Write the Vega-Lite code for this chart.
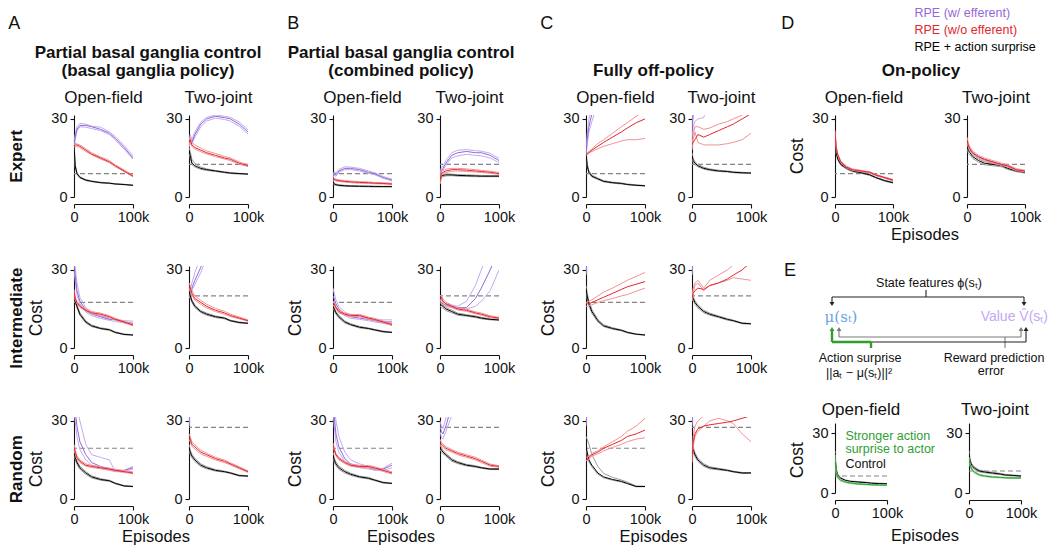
{
"$schema":"https://vega.github.io/schema/vega-lite/v6.json",
"padding":{"left":8,"top":7,"right":0,"bottom":0},
"background":"white",
"config":{
 "font":"Liberation Sans",
 "view":{"stroke":null},
 "title":{"color":"#111","offset":4,"anchor":"middle"},
 "axis":{"labelFontSize":14.5,"labelColor":"#111","domainColor":"#111","tickColor":"#111","tickSize":4,"grid":false,"labelPadding":2,"domainWidth":1.1,"tickWidth":1.1},
 "axisX":{"labelFlush":false,"labelAngle":0},
 "axisY":{"labelPadding":3},
 "header":{"labelFontSize":17,"labelColor":"#111"},
 "legend":{"orient":"none","legendX":828,"legendY":-108,"symbolSize":0,"symbolOpacity":0,"symbolStrokeWidth":0,"labelOffset":0,"labelFontSize":12.5,"rowPadding":4,"padding":0}
},
"datasets":{
"diag":[
{"kind":"seg","c":"k","x":91,"y":31,"x2":91,"y2":38},
{"kind":"seg","c":"k","x":-3,"y":38,"x2":189,"y2":38},
{"kind":"seg","c":"k","x":-3,"y":38,"x2":-3,"y2":43},
{"kind":"seg","c":"k","x":189,"y":38,"x2":189,"y2":43},
{"kind":"seg","c":"g","x":4,"y":78,"x2":186,"y2":78},
{"kind":"seg","c":"g","x":4,"y":78,"x2":4,"y2":72},
{"kind":"seg","c":"g","x":186,"y":78,"x2":186,"y2":72},
{"kind":"seg","c":"g","x":170,"y":78,"x2":170,"y2":89},
{"kind":"seg","c":"k","x":36,"y":83,"x2":191,"y2":83},
{"kind":"seg","c":"k","x":191,"y":83,"x2":191,"y2":72},
{"kind":"seg","c":"n","x":36,"y":89,"x2":36,"y2":83},
{"kind":"seg","c":"n","x":-3,"y":83,"x2":36,"y2":83},
{"kind":"seg","c":"n","x":-3,"y":83,"x2":-3,"y2":72},
{"kind":"arr","c":"k","dir":"down","x":-3,"y":45},
{"kind":"arr","c":"k","dir":"down","x":189,"y":45},
{"kind":"arr","c":"g","dir":"up","x":4,"y":70},
{"kind":"arr","c":"g","dir":"up","x":186,"y":70},
{"kind":"arr","c":"k","dir":"up","x":191,"y":70},
{"kind":"arr","c":"n","dir":"up","x":-3,"y":70},
{"kind":"txt","r":"let","x":-51,"y":12,"t":"E"},
{"kind":"txt","r":"lab","x":94,"y":24,"t":"State features ϕ(sₜ)"},
{"kind":"txt","r":"mu","x":6,"y":58,"t":"μ(sₜ)"},
{"kind":"txt","r":"val","x":213,"y":58,"t":"Value V̂(sₜ)"},
{"kind":"txt","r":"lab","x":25,"y":99,"t":"Action surprise"},
{"kind":"txt","r":"lab","x":24,"y":114,"t":"||aₜ − μ(sₜ)||²"},
{"kind":"txt","r":"lab","x":159,"y":99,"t":"Reward prediction"},
{"kind":"txt","r":"lab","x":156,"y":112,"t":"error"}],
"cur":[
{"g":"Ae","task":"Open-field","x":0,"p1":21,"p2":19,"pm":20,"b1":20.5,"b2":19.5,"bm":20,"r1":20,"r2":19,"rm":19.5},
{"g":"Ae","task":"Open-field","x":2000,"p1":24,"p2":22,"pm":23,"b1":12.6,"b2":11.5,"bm":12,"r1":20.6,"r2":19.5,"rm":20},
{"g":"Ae","task":"Open-field","x":5000,"p1":27,"p2":25.3,"pm":26,"b1":9.4,"b2":8.7,"bm":9,"r1":20.4,"r2":19.4,"rm":20},
{"g":"Ae","task":"Open-field","x":10000,"p1":28.3,"p2":27,"pm":27.5,"b1":7.8,"b2":7.3,"bm":7.5,"r1":20,"r2":19,"rm":19.5},
{"g":"Ae","task":"Open-field","x":20000,"p1":28,"p2":26.8,"pm":27.5,"b1":6.7,"b2":6.3,"bm":6.5,"r1":18.5,"r2":17.5,"rm":18},
{"g":"Ae","task":"Open-field","x":30000,"p1":27.2,"p2":26.3,"pm":27,"b1":6.2,"b2":5.9,"bm":6,"r1":17,"r2":16.2,"rm":16.5},
{"g":"Ae","task":"Open-field","x":45000,"p1":26.8,"p2":25.5,"pm":26,"b1":5.7,"b2":5.4,"bm":5.5,"r1":15.4,"r2":14.6,"rm":15},
{"g":"Ae","task":"Open-field","x":60000,"p1":25,"p2":24,"pm":24.5,"b1":5.4,"b2":5.2,"bm":5.3,"r1":14,"r2":13.2,"rm":13.5},
{"g":"Ae","task":"Open-field","x":70000,"p1":23.2,"p2":22,"pm":22.5,"b1":5.1,"b2":4.9,"bm":5,"r1":12.3,"r2":11.6,"rm":12},
{"g":"Ae","task":"Open-field","x":85000,"p1":19.8,"p2":18.4,"pm":19,"b1":4.9,"b2":4.7,"bm":4.8,"r1":10.4,"r2":9.7,"rm":10},
{"g":"Ae","task":"Open-field","x":100000,"p1":15.8,"p2":14.5,"pm":15,"b1":4.6,"b2":4.4,"bm":4.5,"r1":8.3,"r2":7.8,"rm":8},
{"g":"Ae","task":"Open-field","d":9},
{"g":"Ae","task":"Two-joint","x":0,"p1":21,"p2":19,"pm":20,"b1":19,"b2":17,"bm":18,"r1":22,"r2":20,"rm":21},
{"g":"Ae","task":"Two-joint","x":2000,"p1":24,"p2":21,"pm":22,"b1":17.5,"b2":15,"bm":16,"r1":23,"r2":21,"rm":22},
{"g":"Ae","task":"Two-joint","x":5000,"p1":22,"p2":20.5,"pm":21,"b1":14.5,"b2":12.4,"bm":13,"r1":21,"r2":19.4,"rm":20},
{"g":"Ae","task":"Two-joint","x":10000,"p1":25,"p2":23,"pm":24,"b1":12.8,"b2":11.5,"bm":12,"r1":20,"r2":18.4,"rm":19},
{"g":"Ae","task":"Two-joint","x":20000,"p1":28.8,"p2":27,"pm":28,"b1":11.5,"b2":10.6,"bm":11,"r1":18.8,"r2":17.4,"rm":18},
{"g":"Ae","task":"Two-joint","x":30000,"p1":30.6,"p2":29.2,"pm":30,"b1":10.8,"b2":10.2,"bm":10.5,"r1":17.7,"r2":16.5,"rm":17},
{"g":"Ae","task":"Two-joint","x":45000,"p1":31.5,"p2":30.3,"pm":31,"b1":10.2,"b2":9.8,"bm":10,"r1":16.7,"r2":15.5,"rm":16},
{"g":"Ae","task":"Two-joint","x":60000,"p1":31,"p2":29.8,"pm":30.5,"b1":9.7,"b2":9.3,"bm":9.5,"r1":15.6,"r2":14.6,"rm":15},
{"g":"Ae","task":"Two-joint","x":70000,"p1":30.6,"p2":29.2,"pm":30,"b1":9.4,"b2":9,"bm":9.2,"r1":15,"r2":14,"rm":14.5},
{"g":"Ae","task":"Two-joint","x":85000,"p1":28.8,"p2":27.2,"pm":28,"b1":9.1,"b2":8.8,"bm":9,"r1":13.5,"r2":12.6,"rm":13},
{"g":"Ae","task":"Two-joint","x":100000,"p1":25.8,"p2":24.2,"pm":25,"b1":8.9,"b2":8.7,"bm":8.8,"r1":12.4,"r2":11.7,"rm":12},
{"g":"Ae","task":"Two-joint","d":12.5},
{"g":"Ai","task":"Open-field","x":0,"p1":36,"p2":30,"pm":33,"b1":21.5,"b2":20.5,"bm":21,"r1":22.5,"r2":21.5,"rm":22},
{"g":"Ai","task":"Open-field","x":2000,"p1":31,"p2":26,"pm":28,"b1":18.6,"b2":17.5,"bm":18,"r1":19.6,"r2":18.5,"rm":19},
{"g":"Ai","task":"Open-field","x":5000,"p1":25,"p2":20.5,"pm":22,"b1":16.6,"b2":15.5,"bm":16,"r1":18,"r2":17,"rm":17.5},
{"g":"Ai","task":"Open-field","x":10000,"p1":19.5,"p2":17,"pm":18,"b1":13.6,"b2":12.5,"bm":13,"r1":16.5,"r2":15.6,"rm":16},
{"g":"Ai","task":"Open-field","x":20000,"p1":15.5,"p2":13.8,"pm":14.5,"b1":10.4,"b2":9.6,"bm":10,"r1":15,"r2":14.1,"rm":14.5},
{"g":"Ai","task":"Open-field","x":30000,"p1":13.8,"p2":12.4,"pm":13,"b1":8.8,"b2":8.2,"bm":8.5,"r1":14,"r2":13.1,"rm":13.5},
{"g":"Ai","task":"Open-field","x":45000,"p1":12.3,"p2":11.4,"pm":12,"b1":7.8,"b2":7.3,"bm":7.5,"r1":13.4,"r2":12.6,"rm":13},
{"g":"Ai","task":"Open-field","x":60000,"p1":11.2,"p2":10.6,"pm":11,"b1":7.2,"b2":6.8,"bm":7,"r1":12.4,"r2":11.6,"rm":12},
{"g":"Ai","task":"Open-field","x":70000,"p1":10.8,"p2":10.2,"pm":11,"b1":6.2,"b2":5.8,"bm":6,"r1":11.4,"r2":10.7,"rm":11},
{"g":"Ai","task":"Open-field","x":85000,"p1":10.5,"p2":9.6,"pm":10,"b1":5.4,"b2":5.1,"bm":5.2,"r1":10.3,"r2":9.7,"rm":10},
{"g":"Ai","task":"Open-field","x":100000,"p1":10.3,"p2":9.2,"pm":9.5,"b1":5.1,"b2":4.9,"bm":5,"r1":9.1,"r2":8.5,"rm":8.8},
{"g":"Ai","task":"Open-field","d":17.5},
{"g":"Ai","task":"Two-joint","x":0,"p1":21,"p2":19,"pm":20,"b1":22.5,"b2":21.5,"bm":22,"r1":25,"r2":23,"rm":24},
{"g":"Ai","task":"Two-joint","x":2000,"p1":22,"p2":20,"pm":21,"b1":20.6,"b2":19.4,"bm":20,"r1":24,"r2":22,"rm":23},
{"g":"Ai","task":"Two-joint","x":5000,"p1":25,"p2":22,"pm":23,"b1":18.5,"b2":17.5,"bm":18,"r1":22,"r2":20.3,"rm":21},
{"g":"Ai","task":"Two-joint","x":10000,"p1":29,"p2":24.5,"pm":26,"b1":16.5,"b2":15.5,"bm":16,"r1":20,"r2":18.4,"rm":19},
{"g":"Ai","task":"Two-joint","x":20000,"p1":35,"p2":29,"pm":31,"b1":14.4,"b2":13.6,"bm":14,"r1":18.3,"r2":16.8,"rm":17.5},
{"g":"Ai","task":"Two-joint","x":30000,"p1":43,"p2":35,"pm":38,"b1":13.4,"b2":12.6,"bm":13,"r1":16.8,"r2":15.4,"rm":16},
{"g":"Ai","task":"Two-joint","x":45000,"b1":12.3,"b2":11.7,"bm":12,"r1":15.2,"r2":14,"rm":14.5},
{"g":"Ai","task":"Two-joint","x":60000,"b1":11.7,"b2":11.2,"bm":11.5,"r1":14.1,"r2":13,"rm":13.5},
{"g":"Ai","task":"Two-joint","x":70000,"b1":10.7,"b2":10.3,"bm":10.5,"r1":13,"r2":12.1,"rm":12.5},
{"g":"Ai","task":"Two-joint","x":85000,"b1":10,"b2":9.6,"bm":9.8,"r1":11.9,"r2":11.2,"rm":11.5},
{"g":"Ai","task":"Two-joint","x":100000,"b1":9.6,"b2":9.4,"bm":9.5,"r1":10.8,"r2":10.3,"rm":10.5},
{"g":"Ai","task":"Two-joint","d":20},
{"g":"Ar","task":"Open-field","x":0,"p1":45,"p2":36,"pm":40,"b1":19,"b2":17,"bm":18,"r1":21,"r2":19,"rm":20},
{"g":"Ar","task":"Open-field","x":2000,"p1":40,"p2":30,"pm":34,"b1":16.8,"b2":15.2,"bm":16,"r1":18.8,"r2":17.3,"rm":18},
{"g":"Ar","task":"Open-field","x":5000,"p1":35,"p2":24,"pm":28,"b1":14.7,"b2":13.3,"bm":14,"r1":16.6,"r2":15.4,"rm":16},
{"g":"Ar","task":"Open-field","x":10000,"p1":30,"p2":19,"pm":22,"b1":12.6,"b2":11.4,"bm":12,"r1":15,"r2":14,"rm":14.5},
{"g":"Ar","task":"Open-field","x":20000,"p1":21,"p2":15,"pm":17,"b1":10.5,"b2":9.5,"bm":10,"r1":13.5,"r2":12.6,"rm":13},
{"g":"Ar","task":"Open-field","x":30000,"p1":17,"p2":13,"pm":14,"b1":8.9,"b2":8.1,"bm":8.5,"r1":12.9,"r2":12.1,"rm":12.5},
{"g":"Ar","task":"Open-field","x":45000,"p1":16,"p2":12,"pm":12.5,"b1":7.8,"b2":7.2,"bm":7.5,"r1":12.4,"r2":11.6,"rm":12},
{"g":"Ar","task":"Open-field","x":60000,"p1":15,"p2":11,"pm":11.5,"b1":7.2,"b2":6.8,"bm":7,"r1":11.9,"r2":11.1,"rm":11.5},
{"g":"Ar","task":"Open-field","x":70000,"p1":10.5,"p2":10.5,"pm":11,"b1":6.2,"b2":5.8,"bm":6,"r1":11.4,"r2":10.7,"rm":11},
{"g":"Ar","task":"Open-field","x":85000,"p1":11,"p2":10.5,"pm":11,"b1":5.2,"b2":4.9,"bm":5,"r1":10.9,"r2":10.2,"rm":10.5},
{"g":"Ar","task":"Open-field","x":100000,"p1":12.5,"p2":11.5,"pm":12,"b1":4.9,"b2":4.7,"bm":4.8,"r1":10.4,"r2":9.7,"rm":10},
{"g":"Ar","task":"Open-field","d":19.5},
{"g":"Ar","task":"Two-joint","x":0,"p1":32,"p2":28,"pm":30,"b1":21,"b2":19,"bm":20,"r1":25,"r2":23,"rm":24},
{"g":"Ar","task":"Two-joint","x":2000,"p1":42,"p2":34,"pm":38,"b1":18.8,"b2":17.2,"bm":18,"r1":24,"r2":22,"rm":23},
{"g":"Ar","task":"Two-joint","x":5000,"b1":17.2,"b2":15.8,"bm":16.5,"r1":22,"r2":20.2,"rm":21},
{"g":"Ar","task":"Two-joint","x":10000,"b1":15.6,"b2":14.4,"bm":15,"r1":20.8,"r2":19.2,"rm":20},
{"g":"Ar","task":"Two-joint","x":20000,"b1":13.5,"b2":12.5,"bm":13,"r1":18.7,"r2":17.3,"rm":18},
{"g":"Ar","task":"Two-joint","x":30000,"b1":12.4,"b2":11.6,"bm":12,"r1":17.6,"r2":16.4,"rm":17},
{"g":"Ar","task":"Two-joint","x":45000,"b1":11.3,"b2":10.7,"bm":11,"r1":16,"r2":15,"rm":15.5},
{"g":"Ar","task":"Two-joint","x":60000,"b1":10.7,"b2":10.3,"bm":10.5,"r1":15,"r2":14,"rm":14.5},
{"g":"Ar","task":"Two-joint","x":70000,"b1":10.2,"b2":9.8,"bm":10,"r1":13.9,"r2":13.1,"rm":13.5},
{"g":"Ar","task":"Two-joint","x":85000,"b1":9.2,"b2":8.8,"bm":9,"r1":12.4,"r2":11.6,"rm":12},
{"g":"Ar","task":"Two-joint","x":100000,"b1":8.9,"b2":8.7,"bm":8.8,"r1":10.8,"r2":10.2,"rm":10.5},
{"g":"Ar","task":"Two-joint","d":27.5},
{"g":"Be","task":"Open-field","x":0,"p1":8.5,"p2":7.5,"pm":8,"b1":6.4,"b2":5.6,"bm":6,"r1":7.4,"r2":6.6,"rm":7},
{"g":"Be","task":"Open-field","x":2000,"p1":9.6,"p2":8.5,"pm":9,"b1":5.3,"b2":4.7,"bm":5,"r1":7.2,"r2":6.4,"rm":6.8},
{"g":"Be","task":"Open-field","x":5000,"p1":9.2,"p2":8,"pm":8.5,"b1":5,"b2":4.5,"bm":4.7,"r1":6.9,"r2":6.1,"rm":6.5},
{"g":"Be","task":"Open-field","x":10000,"p1":10.6,"p2":9.5,"pm":10,"b1":4.7,"b2":4.3,"bm":4.5,"r1":6.6,"r2":6,"rm":6.3},
{"g":"Be","task":"Open-field","x":20000,"p1":11.6,"p2":10.5,"pm":11,"b1":4.5,"b2":4.1,"bm":4.3,"r1":6.3,"r2":5.7,"rm":6},
{"g":"Be","task":"Open-field","x":30000,"p1":11.5,"p2":10.5,"pm":11,"b1":4.4,"b2":4,"bm":4.2,"r1":6.1,"r2":5.5,"rm":5.8},
{"g":"Be","task":"Open-field","x":45000,"p1":11,"p2":10,"pm":10.5,"b1":4.3,"b2":4,"bm":4.1,"r1":5.9,"r2":5.3,"rm":5.6},
{"g":"Be","task":"Open-field","x":60000,"p1":10,"p2":9.1,"pm":9.5,"b1":4.2,"b2":3.9,"bm":4.1,"r1":5.8,"r2":5.2,"rm":5.5},
{"g":"Be","task":"Open-field","x":70000,"p1":9.4,"p2":8.6,"pm":9,"b1":4.2,"b2":3.9,"bm":4,"r1":5.6,"r2":5.1,"rm":5.3},
{"g":"Be","task":"Open-field","x":85000,"p1":7.9,"p2":7.2,"pm":7.5,"b1":4.1,"b2":3.9,"bm":4,"r1":5.5,"r2":5,"rm":5.2},
{"g":"Be","task":"Open-field","x":100000,"p1":6.8,"p2":6.2,"pm":6.5,"b1":4.1,"b2":3.9,"bm":4,"r1":5.3,"r2":4.8,"rm":5},
{"g":"Be","task":"Open-field","d":9},
{"g":"Be","task":"Two-joint","x":0,"p1":9,"p2":7,"pm":8,"b1":7,"b2":5,"bm":6,"r1":7,"r2":5,"rm":6},
{"g":"Be","task":"Two-joint","x":2000,"p1":11,"p2":9.5,"pm":10,"b1":8.7,"b2":7.4,"bm":8,"r1":10,"r2":8.4,"rm":9},
{"g":"Be","task":"Two-joint","x":5000,"p1":12,"p2":10.4,"pm":11,"b1":8.8,"b2":7.8,"bm":8.3,"r1":10.2,"r2":9,"rm":9.5},
{"g":"Be","task":"Two-joint","x":10000,"p1":14,"p2":12.2,"pm":13,"b1":8.9,"b2":8.1,"bm":8.5,"r1":10.7,"r2":9.4,"rm":10},
{"g":"Be","task":"Two-joint","x":20000,"p1":17,"p2":15,"pm":16,"b1":8.8,"b2":8.2,"bm":8.5,"r1":11,"r2":9.9,"rm":10.5},
{"g":"Be","task":"Two-joint","x":30000,"p1":18,"p2":15.8,"pm":17,"b1":8.6,"b2":8,"bm":8.3,"r1":11,"r2":10,"rm":10.5},
{"g":"Be","task":"Two-joint","x":45000,"p1":18.2,"p2":16.4,"pm":17.5,"b1":8.5,"b2":7.9,"bm":8.2,"r1":10.8,"r2":9.8,"rm":10.3},
{"g":"Be","task":"Two-joint","x":60000,"p1":17.8,"p2":16,"pm":17,"b1":8.4,"b2":7.8,"bm":8.1,"r1":10.5,"r2":9.6,"rm":10},
{"g":"Be","task":"Two-joint","x":70000,"p1":17.6,"p2":15.8,"pm":17,"b1":8.3,"b2":7.8,"bm":8,"r1":10.2,"r2":9.4,"rm":9.8},
{"g":"Be","task":"Two-joint","x":85000,"p1":16.8,"p2":15,"pm":16,"b1":8.2,"b2":7.8,"bm":8,"r1":9.9,"r2":9.1,"rm":9.5},
{"g":"Be","task":"Two-joint","x":100000,"p1":14.8,"p2":13.2,"pm":14,"b1":8.2,"b2":7.8,"bm":8,"r1":9.4,"r2":8.7,"rm":9},
{"g":"Be","task":"Two-joint","d":12.5},
{"g":"Bi","task":"Open-field","x":0,"p1":23,"p2":18,"pm":20,"b1":16.6,"b2":15.4,"bm":16,"r1":17.5,"r2":16.5,"rm":17},
{"g":"Bi","task":"Open-field","x":2000,"p1":21,"p2":17.5,"pm":19,"b1":15.6,"b2":14.4,"bm":15,"r1":17.6,"r2":16.4,"rm":17},
{"g":"Bi","task":"Open-field","x":5000,"p1":18.5,"p2":15.8,"pm":17,"b1":14,"b2":13,"bm":13.5,"r1":16,"r2":15,"rm":15.5},
{"g":"Bi","task":"Open-field","x":10000,"p1":16,"p2":14,"pm":15,"b1":12.5,"b2":11.5,"bm":12,"r1":14.5,"r2":13.5,"rm":14},
{"g":"Bi","task":"Open-field","x":20000,"p1":13.8,"p2":12.4,"pm":13,"b1":10.4,"b2":9.6,"bm":10,"r1":13.4,"r2":12.6,"rm":13},
{"g":"Bi","task":"Open-field","x":30000,"p1":12.7,"p2":11.4,"pm":12,"b1":9.3,"b2":8.7,"bm":9,"r1":12.9,"r2":12.1,"rm":12.5},
{"g":"Bi","task":"Open-field","x":45000,"p1":12,"p2":11,"pm":11.5,"b1":8.3,"b2":7.7,"bm":8,"r1":12.9,"r2":12.1,"rm":12.5},
{"g":"Bi","task":"Open-field","x":60000,"p1":11.5,"p2":10.5,"pm":11,"b1":7.7,"b2":7.3,"bm":7.5,"r1":11.9,"r2":11.1,"rm":11.5},
{"g":"Bi","task":"Open-field","x":70000,"p1":11,"p2":10,"pm":10.5,"b1":7.2,"b2":6.8,"bm":7,"r1":11.4,"r2":10.6,"rm":11},
{"g":"Bi","task":"Open-field","x":85000,"p1":10.8,"p2":9.5,"pm":10,"b1":6.5,"b2":6.1,"bm":6.3,"r1":10.4,"r2":9.6,"rm":10},
{"g":"Bi","task":"Open-field","x":100000,"p1":10.8,"p2":9.4,"pm":10,"b1":6.1,"b2":5.9,"bm":6,"r1":9.4,"r2":8.6,"rm":9},
{"g":"Bi","task":"Open-field","d":17.5},
{"g":"Bi","task":"Two-joint","x":0,"p1":19,"p2":17,"pm":18,"b1":18,"b2":16,"bm":17,"r1":20,"r2":18,"rm":19},
{"g":"Bi","task":"Two-joint","x":2000,"p1":18.5,"p2":16.8,"pm":17.5,"b1":17.3,"b2":15.7,"bm":16.5,"r1":20.3,"r2":18.8,"rm":19.5},
{"g":"Bi","task":"Two-joint","x":5000,"p1":17.8,"p2":16.3,"pm":17,"b1":16.6,"b2":15.3,"bm":16,"r1":18.8,"r2":17.3,"rm":18},
{"g":"Bi","task":"Two-joint","x":10000,"p1":17,"p2":16,"pm":16.5,"b1":15.5,"b2":14.4,"bm":15,"r1":17.6,"r2":16.4,"rm":17},
{"g":"Bi","task":"Two-joint","x":20000,"p1":16.5,"p2":15.5,"pm":16,"b1":14.5,"b2":13.5,"bm":14,"r1":16.5,"r2":15.5,"rm":16},
{"g":"Bi","task":"Two-joint","x":30000,"p1":16,"p2":15.2,"pm":15.5,"b1":13.4,"b2":12.6,"bm":13,"r1":15.4,"r2":14.6,"rm":15},
{"g":"Bi","task":"Two-joint","x":45000,"p1":18,"p2":15,"pm":15.5,"b1":12.8,"b2":12.2,"bm":12.5,"r1":14.9,"r2":14.1,"rm":14.5},
{"g":"Bi","task":"Two-joint","x":60000,"p1":24,"p2":16,"pm":19,"b1":12.3,"b2":11.7,"bm":12,"r1":13.9,"r2":13.1,"rm":13.5},
{"g":"Bi","task":"Two-joint","x":70000,"p1":30,"p2":18,"pm":23,"b1":11.8,"b2":11.2,"bm":11.5,"r1":13.4,"r2":12.6,"rm":13},
{"g":"Bi","task":"Two-joint","x":85000,"p1":38,"p2":22,"pm":30,"b1":11.2,"b2":10.8,"bm":11,"r1":12.4,"r2":11.6,"rm":12},
{"g":"Bi","task":"Two-joint","x":100000,"p1":46,"p2":30,"pm":38,"b1":11,"b2":10.6,"bm":10.8,"r1":11.8,"r2":11.2,"rm":11.5},
{"g":"Bi","task":"Two-joint","d":20},
{"g":"Br","task":"Open-field","x":0,"p1":45,"p2":36,"pm":40,"b1":18,"b2":16,"bm":17,"r1":21.5,"r2":20.5,"rm":21},
{"g":"Br","task":"Open-field","x":2000,"p1":37,"p2":28,"pm":32,"b1":15.8,"b2":14.2,"bm":15,"r1":19.6,"r2":18.4,"rm":19},
{"g":"Br","task":"Open-field","x":5000,"p1":30,"p2":22,"pm":25,"b1":14.2,"b2":12.8,"bm":13.5,"r1":17.5,"r2":16.5,"rm":17},
{"g":"Br","task":"Open-field","x":10000,"p1":24,"p2":18,"pm":20,"b1":12.6,"b2":11.4,"bm":12,"r1":16,"r2":15,"rm":15.5},
{"g":"Br","task":"Open-field","x":20000,"p1":18,"p2":14.5,"pm":15.5,"b1":11,"b2":10,"bm":10.5,"r1":14.4,"r2":13.6,"rm":14},
{"g":"Br","task":"Open-field","x":30000,"p1":15,"p2":12.8,"pm":13.5,"b1":9.9,"b2":9.1,"bm":9.5,"r1":13.4,"r2":12.6,"rm":13},
{"g":"Br","task":"Open-field","x":45000,"p1":13.5,"p2":12,"pm":12.5,"b1":8.8,"b2":8.2,"bm":8.5,"r1":12.9,"r2":12.1,"rm":12.5},
{"g":"Br","task":"Open-field","x":60000,"p1":12.5,"p2":11.5,"pm":12,"b1":8.3,"b2":7.7,"bm":8,"r1":12.9,"r2":12.1,"rm":12.5},
{"g":"Br","task":"Open-field","x":70000,"p1":11,"p2":11.2,"pm":11.5,"b1":7.5,"b2":7.1,"bm":7.3,"r1":12.4,"r2":11.6,"rm":12},
{"g":"Br","task":"Open-field","x":85000,"p1":11,"p2":11.8,"pm":11.5,"b1":6.5,"b2":6.1,"bm":6.3,"r1":11.4,"r2":10.6,"rm":11},
{"g":"Br","task":"Open-field","x":100000,"p1":12,"p2":13.8,"pm":13,"b1":6.1,"b2":5.9,"bm":6,"r1":10.4,"r2":9.6,"rm":10},
{"g":"Br","task":"Open-field","d":19.5},
{"g":"Br","task":"Two-joint","x":0,"p1":30,"p2":26,"pm":28,"b1":21,"b2":19,"bm":20,"r1":23,"r2":21,"rm":22},
{"g":"Br","task":"Two-joint","x":2000,"p1":28,"p2":24,"pm":26,"b1":19.8,"b2":18.2,"bm":19,"r1":21.8,"r2":20.3,"rm":21},
{"g":"Br","task":"Two-joint","x":5000,"p1":27,"p2":23,"pm":25,"b1":18.6,"b2":17.4,"bm":18,"r1":21.2,"r2":19.8,"rm":20.5},
{"g":"Br","task":"Two-joint","x":10000,"p1":31,"p2":26,"pm":28,"b1":17.5,"b2":16.5,"bm":17,"r1":20.1,"r2":18.9,"rm":19.5},
{"g":"Br","task":"Two-joint","x":20000,"p1":40,"p2":32,"pm":36,"b1":15.5,"b2":14.5,"bm":15,"r1":19,"r2":18,"rm":18.5},
{"g":"Br","task":"Two-joint","x":30000,"b1":14.4,"b2":13.6,"bm":14,"r1":18,"r2":17,"rm":17.5},
{"g":"Br","task":"Two-joint","x":45000,"b1":13.3,"b2":12.7,"bm":13,"r1":17,"r2":16,"rm":16.5},
{"g":"Br","task":"Two-joint","x":60000,"b1":12.8,"b2":12.2,"bm":12.5,"r1":16,"r2":15,"rm":15.5},
{"g":"Br","task":"Two-joint","x":70000,"b1":12.2,"b2":11.8,"bm":12,"r1":15,"r2":14,"rm":14.5},
{"g":"Br","task":"Two-joint","x":85000,"b1":11.7,"b2":11.3,"bm":11.5,"r1":13.4,"r2":12.6,"rm":13},
{"g":"Br","task":"Two-joint","x":100000,"b1":11.7,"b2":11.3,"bm":11.5,"r1":12.8,"r2":12.2,"rm":12.5},
{"g":"Br","task":"Two-joint","d":27.5},
{"g":"Ce","task":"Open-field","x":0,"p1":18,"p2":16,"pm":17,"b1":17.5,"b2":16.5,"bm":17,"r1":16,"r2":16,"rm":16},
{"g":"Ce","task":"Open-field","x":2000,"p1":24,"p2":20,"pm":22,"b1":12.8,"b2":11.4,"bm":12,"r1":17,"r2":16.5,"rm":16.5},
{"g":"Ce","task":"Open-field","x":5000,"p1":30,"p2":25,"pm":27,"b1":10,"b2":9.1,"bm":9.5,"r1":17.5,"r2":17,"rm":17},
{"g":"Ce","task":"Open-field","x":10000,"p1":36,"p2":29,"pm":32,"b1":8.4,"b2":7.7,"bm":8,"r1":18.5,"r2":17.5,"rm":18},
{"g":"Ce","task":"Open-field","x":20000,"p1":45,"p2":36,"pm":40,"b1":7.3,"b2":6.7,"bm":7,"r1":20.5,"r2":18.5,"rm":19.5},
{"g":"Ce","task":"Open-field","x":30000,"b1":6.3,"b2":5.8,"bm":6,"r1":22,"r2":19.5,"rm":21},
{"g":"Ce","task":"Open-field","x":45000,"b1":5.7,"b2":5.3,"bm":5.5,"r1":24.5,"r2":20.5,"rm":23},
{"g":"Ce","task":"Open-field","x":60000,"b1":5.4,"b2":5,"bm":5.2,"r1":27,"r2":21.5,"rm":25},
{"g":"Ce","task":"Open-field","x":70000,"b1":5,"b2":4.7,"bm":4.8,"r1":28.5,"r2":22,"rm":26.5},
{"g":"Ce","task":"Open-field","x":85000,"b1":4.7,"b2":4.4,"bm":4.5,"r1":31,"r2":22,"rm":28.5},
{"g":"Ce","task":"Open-field","x":100000,"b1":4.4,"b2":4.2,"bm":4.3,"r1":33,"r2":22.5,"rm":30},
{"g":"Ce","task":"Open-field","d":9},
{"g":"Ce","task":"Two-joint","x":0,"p1":27,"p2":23,"pm":25,"b1":17,"b2":15,"bm":16,"r1":20,"r2":18,"rm":20},
{"g":"Ce","task":"Two-joint","x":2000,"p1":35,"p2":27,"pm":32,"b1":14.8,"b2":13.3,"bm":14,"r1":24,"r2":22,"rm":21},
{"g":"Ce","task":"Two-joint","x":5000,"p1":44,"p2":29,"pm":40,"b1":13.6,"b2":12.4,"bm":13,"r1":27,"r2":25,"rm":22},
{"g":"Ce","task":"Two-joint","x":10000,"p2":30,"b1":12.5,"b2":11.6,"bm":12,"r1":27,"r2":21,"rm":24},
{"g":"Ce","task":"Two-joint","x":20000,"p2":30.5,"b1":11.4,"b2":10.7,"bm":11,"r1":26,"r2":20,"rm":23},
{"g":"Ce","task":"Two-joint","x":30000,"p2":40,"b1":10.8,"b2":10.2,"bm":10.5,"r1":26.5,"r2":20,"rm":24},
{"g":"Ce","task":"Two-joint","x":45000,"b1":10.3,"b2":9.8,"bm":10,"r1":28,"r2":20,"rm":25.5},
{"g":"Ce","task":"Two-joint","x":60000,"b1":10,"b2":9.6,"bm":9.8,"r1":29,"r2":20.5,"rm":27},
{"g":"Ce","task":"Two-joint","x":70000,"b1":9.7,"b2":9.3,"bm":9.5,"r1":30,"r2":21,"rm":28},
{"g":"Ce","task":"Two-joint","x":85000,"b1":9.5,"b2":9.1,"bm":9.3,"r1":31.5,"r2":22,"rm":30},
{"g":"Ce","task":"Two-joint","x":100000,"b1":9.3,"b2":9.1,"bm":9.2,"r1":33,"r2":24.5,"rm":32},
{"g":"Ce","task":"Two-joint","d":12.5},
{"g":"Ci","task":"Open-field","x":0,"p1":32,"p2":28,"pm":30,"b1":24,"b2":22,"bm":23,"r1":17,"r2":16,"rm":17},
{"g":"Ci","task":"Open-field","x":2000,"p1":44,"p2":36,"pm":40,"b1":21,"b2":19,"bm":20,"r1":17.5,"r2":16,"rm":17},
{"g":"Ci","task":"Open-field","x":5000,"b1":18,"b2":16.2,"bm":17,"r1":18,"r2":16.3,"rm":17},
{"g":"Ci","task":"Open-field","x":10000,"b1":14.8,"b2":13.3,"bm":14,"r1":18.5,"r2":16.6,"rm":17.5},
{"g":"Ci","task":"Open-field","x":20000,"b1":11,"b2":10,"bm":10.5,"r1":20,"r2":17.5,"rm":18.5},
{"g":"Ci","task":"Open-field","x":30000,"b1":8.9,"b2":8.2,"bm":8.5,"r1":21.5,"r2":18.2,"rm":19.5},
{"g":"Ci","task":"Open-field","x":45000,"b1":7.8,"b2":7.2,"bm":7.5,"r1":23,"r2":19,"rm":21},
{"g":"Ci","task":"Open-field","x":60000,"b1":7,"b2":6.6,"bm":6.8,"r1":24.8,"r2":20,"rm":22.5},
{"g":"Ci","task":"Open-field","x":70000,"b1":6.2,"b2":5.8,"bm":6,"r1":26,"r2":20.5,"rm":23.5},
{"g":"Ci","task":"Open-field","x":85000,"b1":5.4,"b2":5.2,"bm":5.3,"r1":27.5,"r2":21.8,"rm":24.5},
{"g":"Ci","task":"Open-field","x":100000,"b1":5.1,"b2":4.9,"bm":5,"r1":29,"r2":23,"rm":25.5},
{"g":"Ci","task":"Open-field","d":17.5},
{"g":"Ci","task":"Two-joint","x":0,"p1":32,"p2":28,"pm":30,"b1":21,"b2":19,"bm":20,"r1":20,"r2":18,"rm":19},
{"g":"Ci","task":"Two-joint","x":2000,"p1":44,"p2":36,"pm":40,"b1":19.8,"b2":18.2,"bm":19,"r1":23,"r2":21,"rm":21},
{"g":"Ci","task":"Two-joint","x":5000,"b1":18.2,"b2":16.8,"bm":17.5,"r1":25,"r2":24,"rm":22},
{"g":"Ci","task":"Two-joint","x":10000,"b1":16.6,"b2":15.4,"bm":16,"r1":26,"r2":25,"rm":23},
{"g":"Ci","task":"Two-joint","x":20000,"b1":14.5,"b2":13.5,"bm":14,"r1":23,"r2":22,"rm":22.5},
{"g":"Ci","task":"Two-joint","x":30000,"b1":13.4,"b2":12.6,"bm":13,"r1":26,"r2":24,"rm":24},
{"g":"Ci","task":"Two-joint","x":45000,"b1":12.3,"b2":11.7,"bm":12,"r1":28,"r2":25,"rm":25},
{"g":"Ci","task":"Two-joint","x":60000,"b1":11.3,"b2":10.7,"bm":11,"r1":30,"r2":26,"rm":26.5},
{"g":"Ci","task":"Two-joint","x":70000,"b1":10.7,"b2":10.3,"bm":10.5,"r1":32,"r2":27,"rm":28},
{"g":"Ci","task":"Two-joint","x":85000,"b1":9.7,"b2":9.3,"bm":9.5,"r1":34,"r2":26.5,"rm":30},
{"g":"Ci","task":"Two-joint","x":100000,"b1":9.4,"b2":9.2,"bm":9.3,"r1":36,"r2":26,"rm":33},
{"g":"Ci","task":"Two-joint","d":20},
{"g":"Cr","task":"Open-field","x":0,"p1":32,"p2":28,"pm":30,"b1":24,"b2":19,"bm":20,"r1":16,"r2":15,"rm":17},
{"g":"Cr","task":"Open-field","x":2000,"p1":44,"p2":36,"pm":40,"b1":23,"b2":17,"bm":18,"r1":16,"r2":14.5,"rm":15},
{"g":"Cr","task":"Open-field","x":5000,"b1":21,"b2":14.3,"bm":15,"r1":16.5,"r2":15.5,"rm":16},
{"g":"Cr","task":"Open-field","x":10000,"b1":17,"b2":12.3,"bm":13,"r1":17.5,"r2":16.5,"rm":17},
{"g":"Cr","task":"Open-field","x":20000,"b1":12.5,"b2":9.5,"bm":10,"r1":18.5,"r2":17.3,"rm":18},
{"g":"Cr","task":"Open-field","x":30000,"b1":9.8,"b2":8.1,"bm":8.5,"r1":20,"r2":18.5,"rm":19.5},
{"g":"Cr","task":"Open-field","x":45000,"b1":8.3,"b2":7.2,"bm":7.5,"r1":22,"r2":19.8,"rm":21},
{"g":"Cr","task":"Open-field","x":60000,"b1":7.3,"b2":6.5,"bm":6.8,"r1":24,"r2":21,"rm":22.5},
{"g":"Cr","task":"Open-field","x":70000,"b1":6.5,"b2":5.8,"bm":6,"r1":26,"r2":22,"rm":24},
{"g":"Cr","task":"Open-field","x":85000,"b1":5,"b2":4.7,"bm":4.8,"r1":28,"r2":23,"rm":25},
{"g":"Cr","task":"Open-field","x":100000,"b1":4.9,"b2":4.7,"bm":4.8,"r1":31,"r2":23.5,"rm":26.5},
{"g":"Cr","task":"Open-field","d":19.5},
{"g":"Cr","task":"Two-joint","x":0,"p1":32,"p2":28,"pm":30,"b1":21,"b2":19,"bm":20,"r1":16,"r2":14,"rm":15},
{"g":"Cr","task":"Two-joint","x":2000,"p1":44,"p2":36,"pm":40,"b1":20,"b2":18,"bm":19,"r1":24,"r2":20,"rm":22},
{"g":"Cr","task":"Two-joint","x":5000,"b1":17.8,"b2":16.2,"bm":17,"r1":28,"r2":24,"rm":25},
{"g":"Cr","task":"Two-joint","x":10000,"b1":15.6,"b2":14.4,"bm":15,"r1":30,"r2":26,"rm":27},
{"g":"Cr","task":"Two-joint","x":20000,"b1":13.5,"b2":12.5,"bm":13,"r1":32,"r2":28,"rm":28},
{"g":"Cr","task":"Two-joint","x":30000,"b1":12.4,"b2":11.6,"bm":12,"r1":32.5,"r2":30,"rm":28.5},
{"g":"Cr","task":"Two-joint","x":45000,"b1":11.8,"b2":11.2,"bm":11.5,"r1":33,"r2":31,"rm":29},
{"g":"Cr","task":"Two-joint","x":60000,"b1":11.2,"b2":10.8,"bm":11,"r1":32,"r2":30,"rm":29.5},
{"g":"Cr","task":"Two-joint","x":70000,"b1":10.7,"b2":10.3,"bm":10.5,"r1":33,"r2":29,"rm":30},
{"g":"Cr","task":"Two-joint","x":85000,"b1":10.2,"b2":9.8,"bm":10,"r1":34,"r2":25,"rm":31},
{"g":"Cr","task":"Two-joint","x":100000,"b1":10.1,"b2":9.9,"bm":10,"r1":35,"r2":22,"rm":32},
{"g":"Cr","task":"Two-joint","d":27.5},
{"g":"D","task":"Open-field","x":0,"pm":24.8,"b1":22.5,"b2":21.5,"bm":22,"r1":25.5,"r2":24.5,"rm":25},
{"g":"D","task":"Open-field","x":2000,"pm":18.8,"b1":17.5,"b2":16.5,"bm":17,"r1":19.5,"r2":18.5,"rm":19},
{"g":"D","task":"Open-field","x":5000,"pm":15.8,"b1":14.9,"b2":14.1,"bm":14.5,"r1":16.4,"r2":15.6,"rm":16},
{"g":"D","task":"Open-field","x":10000,"pm":13.3,"b1":12.8,"b2":12.2,"bm":12.5,"r1":13.8,"r2":13.2,"rm":13.5},
{"g":"D","task":"Open-field","x":20000,"pm":11.3,"b1":11.3,"b2":10.7,"bm":11,"r1":11.8,"r2":11.2,"rm":11.5},
{"g":"D","task":"Open-field","x":30000,"pm":10.3,"b1":10.3,"b2":9.7,"bm":10,"r1":10.8,"r2":10.2,"rm":10.5},
{"g":"D","task":"Open-field","x":45000,"pm":9.8,"b1":9.5,"b2":9.1,"bm":9.3,"r1":10.2,"r2":9.8,"rm":10},
{"g":"D","task":"Open-field","x":60000,"pm":9.3,"b1":8.7,"b2":8.3,"bm":8.5,"r1":9.7,"r2":9.3,"rm":9.5},
{"g":"D","task":"Open-field","x":70000,"pm":8.3,"b1":7.7,"b2":7.3,"bm":7.5,"r1":8.7,"r2":8.3,"rm":8.5},
{"g":"D","task":"Open-field","x":85000,"pm":7.3,"b1":6.5,"b2":6.1,"bm":6.3,"r1":7.7,"r2":7.3,"rm":7.5},
{"g":"D","task":"Open-field","x":100000,"pm":6.3,"b1":5.7,"b2":5.3,"bm":5.5,"r1":6.8,"r2":6.2,"rm":6.5},
{"g":"D","task":"Open-field","d":9},
{"g":"D","task":"Two-joint","x":0,"pm":21.8,"b1":21,"b2":19,"bm":20,"r1":23,"r2":21,"rm":22},
{"g":"D","task":"Two-joint","x":2000,"pm":19.8,"b1":19,"b2":17,"bm":18,"r1":20.8,"r2":19.2,"rm":20},
{"g":"D","task":"Two-joint","x":5000,"pm":18.3,"b1":17.8,"b2":16.2,"bm":17,"r1":19.2,"r2":17.8,"rm":18.5},
{"g":"D","task":"Two-joint","x":10000,"pm":16.8,"b1":16.2,"b2":14.8,"bm":15.5,"r1":17.6,"r2":16.4,"rm":17},
{"g":"D","task":"Two-joint","x":20000,"pm":15.3,"b1":14.6,"b2":13.4,"bm":14,"r1":16,"r2":15,"rm":15.5},
{"g":"D","task":"Two-joint","x":30000,"pm":14.3,"b1":13.6,"b2":12.4,"bm":13,"r1":15,"r2":14,"rm":14.5},
{"g":"D","task":"Two-joint","x":45000,"pm":13.3,"b1":13,"b2":12,"bm":12.5,"r1":14,"r2":13,"rm":13.5},
{"g":"D","task":"Two-joint","x":60000,"pm":12.3,"b1":12.4,"b2":11.6,"bm":12,"r1":13,"r2":12,"rm":12.5},
{"g":"D","task":"Two-joint","x":70000,"pm":11.8,"b1":11.4,"b2":10.6,"bm":11,"r1":12.4,"r2":11.6,"rm":12},
{"g":"D","task":"Two-joint","x":85000,"pm":10.3,"b1":10.3,"b2":9.7,"bm":10,"r1":10.9,"r2":10.1,"rm":10.5},
{"g":"D","task":"Two-joint","x":100000,"pm":9.8,"b1":9.8,"b2":9.2,"bm":9.5,"r1":10.3,"r2":9.7,"rm":10},
{"g":"D","task":"Two-joint","d":12.5},
{"g":"E","task":"Open-field","x":0,"c1":21,"c2":19,"cm":20,"g1":19,"g2":17,"gm":18},
{"g":"E","task":"Open-field","x":2000,"c1":12.8,"c2":11.3,"cm":12,"g1":11,"g2":9.2,"gm":10},
{"g":"E","task":"Open-field","x":5000,"c1":9.5,"c2":8.6,"cm":9,"g1":8.6,"g2":7.5,"gm":8},
{"g":"E","task":"Open-field","x":10000,"c1":7.9,"c2":7.2,"cm":7.5,"g1":7,"g2":6.1,"gm":6.5},
{"g":"E","task":"Open-field","x":20000,"c1":6.6,"c2":6.1,"cm":6.3,"g1":5.8,"g2":5.2,"gm":5.5},
{"g":"E","task":"Open-field","x":30000,"c1":6,"c2":5.6,"cm":5.8,"g1":5.3,"g2":4.7,"gm":5},
{"g":"E","task":"Open-field","x":45000,"c1":5.7,"c2":5.3,"cm":5.5,"g1":4.8,"g2":4.3,"gm":4.5},
{"g":"E","task":"Open-field","x":60000,"c1":5.4,"c2":5,"cm":5.2,"g1":4.5,"g2":4.1,"gm":4.3},
{"g":"E","task":"Open-field","x":70000,"c1":5.1,"c2":4.7,"cm":4.9,"g1":4.3,"g2":3.9,"gm":4.1},
{"g":"E","task":"Open-field","x":85000,"c1":4.9,"c2":4.5,"cm":4.7,"g1":4.2,"g2":3.8,"gm":4},
{"g":"E","task":"Open-field","x":100000,"c1":4.8,"c2":4.4,"cm":4.6,"g1":4.2,"g2":3.8,"gm":4},
{"g":"E","task":"Open-field","d":8.5},
{"g":"E","task":"Open-field","ax":20000,"ay":31.5,"who":"g","lab":"Stronger action\nsurprise to actor"},
{"g":"E","task":"Open-field","ax":20000,"ay":14.5,"who":"c","lab":"Control"},
{"g":"E","task":"Two-joint","x":0,"c1":21,"c2":19,"cm":20,"g1":18,"g2":16,"gm":17},
{"g":"E","task":"Two-joint","x":2000,"c1":17,"c2":15.2,"cm":16,"g1":14.8,"g2":13.3,"gm":14},
{"g":"E","task":"Two-joint","x":5000,"c1":14.8,"c2":13.3,"cm":14,"g1":12.6,"g2":11.4,"gm":12},
{"g":"E","task":"Two-joint","x":10000,"c1":13.2,"c2":11.9,"cm":12.5,"g1":11,"g2":10,"gm":10.5},
{"g":"E","task":"Two-joint","x":20000,"c1":11.5,"c2":10.5,"cm":11,"g1":9.4,"g2":8.7,"gm":9},
{"g":"E","task":"Two-joint","x":30000,"c1":10.9,"c2":10.1,"cm":10.5,"g1":8.8,"g2":8.2,"gm":8.5},
{"g":"E","task":"Two-joint","x":45000,"c1":10.4,"c2":9.6,"cm":10,"g1":8.3,"g2":7.7,"gm":8},
{"g":"E","task":"Two-joint","x":60000,"c1":9.8,"c2":9.2,"cm":9.5,"g1":8,"g2":7.6,"gm":7.8},
{"g":"E","task":"Two-joint","x":70000,"c1":9.3,"c2":8.7,"cm":9,"g1":7.8,"g2":7.4,"gm":7.6},
{"g":"E","task":"Two-joint","x":85000,"c1":9,"c2":8.5,"cm":8.8,"g1":7.7,"g2":7.3,"gm":7.5},
{"g":"E","task":"Two-joint","x":100000,"c1":8.7,"c2":8.3,"cm":8.5,"g1":7.7,"g2":7.3,"gm":7.5},
{"g":"E","task":"Two-joint","d":11}
]},
"spacing":25,
"hconcat":[
{"spacing":23,"hconcat":[
{"title":{"text":"A","anchor":"start","fontSize":18,"fontWeight":"normal","offset":11},
 "vconcat":[{"title":{"text":["Partial basal ganglia control","(basal ganglia policy)"],"fontSize":17,"fontWeight":"bold","lineHeight":18,"offset":9,"dx":12},
  "vconcat":[{"title":{"text":"Episodes","orient":"bottom","fontSize":16.5,"fontWeight":"normal","dx":20,"offset":3},"spacing":37,
   "vconcat":[
    {"title":{"text":"Expert","orient":"left","fontSize":17,"fontWeight":"bold","offset":2},"vconcat":[
     {"title":{"text":"Cost","orient":"left","fontSize":17.5,"fontWeight":"normal","color":"transparent","offset":5},"data":{"name":"cur"},"transform":[{"filter":{"field":"g","equal":"Ae"}}],"facet":{"column":{"field":"task","type":"nominal","header":{"title":null,"labelPadding":3}}},"spacing":{"column":31,"row":10},"resolve":{"axis":{"y":"independent"}},
      "spec":{"width":59,"height":82,"layer":[
       {"transform":[{"filter":"isValid(datum.d)"}],"mark":{"type":"rule","strokeDash":[5,3],"color":"#858585","strokeWidth":1.2},"encoding":{"y":{"field":"d","type":"quantitative","scale":{"domain":[0,31.5]},"axis":{"values":[0,30],"title":null}}}},
       {"transform":[{"fold":["p1","p2","pm","b1","b2","bm","r1","r2","rm"],"as":["k","v"]},{"filter":"isValid(datum.v)"}],"mark":{"type":"line","clip":true},"encoding":{"x":{"field":"x","type":"quantitative","scale":{"domain":[0,100000]},"axis":{"values":[0,100000],"labelExpr":"datum.value == 0 ? '0' : '100k'","title":null}},"y":{"field":"v","type":"quantitative","scale":{"domain":[0,31.5]},"axis":{"values":[0,30],"title":null}},"color":{"field":"k","type":"nominal","title":null,"scale":{"domain":["p1","p2","pm","r1","r2","rm","b1","b2","bm","g1","g2","gm","c1","c2","cm"],"range":["#c2abee","#c2abee","#9468d8","#f19396","#f19396","#e3262d","#9a9a9a","#9a9a9a","#000000","#8fd08f","#8fd08f","#2f9e2f","#9a9a9a","#9a9a9a","#000000"]},"legend":{"values":["pm","rm","bm"],"labelExpr":"datum.value=='pm' ? 'RPE (w/ efferent)' : datum.value=='rm' ? 'RPE (w/o efferent)' : 'RPE + action surprise'","encode":{"labels":{"update":{"fill":{"scale":"color","field":"value"}}}}}},"strokeWidth":{"field":"k","type":"nominal","scale":{"domain":["p1","p2","pm","r1","r2","rm","b1","b2","bm","g1","g2","gm","c1","c2","cm"],"range":[1,1,1.8,1,1,1.8,1,1,1.8,1,1,2,1,1,1.8]},"legend":null}}}]}}]},
    {"title":{"text":"Intermediate","orient":"left","fontSize":17,"fontWeight":"bold","offset":2},"vconcat":[
     {"title":{"text":"Cost","orient":"left","fontSize":17.5,"fontWeight":"normal","offset":5},"data":{"name":"cur"},"transform":[{"filter":{"field":"g","equal":"Ai"}}],"facet":{"column":{"field":"task","type":"nominal","header":{"title":null,"labels":false}}},"spacing":{"column":31,"row":10},"resolve":{"axis":{"y":"independent"}},
      "spec":{"width":59,"height":82,"layer":[
       {"transform":[{"filter":"isValid(datum.d)"}],"mark":{"type":"rule","strokeDash":[5,3],"color":"#858585","strokeWidth":1.2},"encoding":{"y":{"field":"d","type":"quantitative","scale":{"domain":[0,31.5]},"axis":{"values":[0,30],"title":null}}}},
       {"transform":[{"fold":["p1","p2","pm","b1","b2","bm","r1","r2","rm"],"as":["k","v"]},{"filter":"isValid(datum.v)"}],"mark":{"type":"line","clip":true},"encoding":{"x":{"field":"x","type":"quantitative","scale":{"domain":[0,100000]},"axis":{"values":[0,100000],"labelExpr":"datum.value == 0 ? '0' : '100k'","title":null}},"y":{"field":"v","type":"quantitative","scale":{"domain":[0,31.5]},"axis":{"values":[0,30],"title":null}},"color":{"field":"k","type":"nominal","title":null,"scale":{"domain":["p1","p2","pm","r1","r2","rm","b1","b2","bm","g1","g2","gm","c1","c2","cm"],"range":["#c2abee","#c2abee","#9468d8","#f19396","#f19396","#e3262d","#9a9a9a","#9a9a9a","#000000","#8fd08f","#8fd08f","#2f9e2f","#9a9a9a","#9a9a9a","#000000"]},"legend":{"values":["pm","rm","bm"],"labelExpr":"datum.value=='pm' ? 'RPE (w/ efferent)' : datum.value=='rm' ? 'RPE (w/o efferent)' : 'RPE + action surprise'","encode":{"labels":{"update":{"fill":{"scale":"color","field":"value"}}}}}},"strokeWidth":{"field":"k","type":"nominal","scale":{"domain":["p1","p2","pm","r1","r2","rm","b1","b2","bm","g1","g2","gm","c1","c2","cm"],"range":[1,1,1.8,1,1,1.8,1,1,1.8,1,1,2,1,1,1.8]},"legend":null}}}]}}]},
    {"title":{"text":"Random","orient":"left","fontSize":17,"fontWeight":"bold","offset":2},"vconcat":[
     {"title":{"text":"Cost","orient":"left","fontSize":17.5,"fontWeight":"normal","offset":5},"data":{"name":"cur"},"transform":[{"filter":{"field":"g","equal":"Ar"}}],"facet":{"column":{"field":"task","type":"nominal","header":{"title":null,"labels":false}}},"spacing":{"column":31,"row":10},"resolve":{"axis":{"y":"independent"}},
      "spec":{"width":59,"height":82,"layer":[
       {"transform":[{"filter":"isValid(datum.d)"}],"mark":{"type":"rule","strokeDash":[5,3],"color":"#858585","strokeWidth":1.2},"encoding":{"y":{"field":"d","type":"quantitative","scale":{"domain":[0,31.5]},"axis":{"values":[0,30],"title":null}}}},
       {"transform":[{"fold":["p1","p2","pm","b1","b2","bm","r1","r2","rm"],"as":["k","v"]},{"filter":"isValid(datum.v)"}],"mark":{"type":"line","clip":true},"encoding":{"x":{"field":"x","type":"quantitative","scale":{"domain":[0,100000]},"axis":{"values":[0,100000],"labelExpr":"datum.value == 0 ? '0' : '100k'","title":null}},"y":{"field":"v","type":"quantitative","scale":{"domain":[0,31.5]},"axis":{"values":[0,30],"title":null}},"color":{"field":"k","type":"nominal","title":null,"scale":{"domain":["p1","p2","pm","r1","r2","rm","b1","b2","bm","g1","g2","gm","c1","c2","cm"],"range":["#c2abee","#c2abee","#9468d8","#f19396","#f19396","#e3262d","#9a9a9a","#9a9a9a","#000000","#8fd08f","#8fd08f","#2f9e2f","#9a9a9a","#9a9a9a","#000000"]},"legend":{"values":["pm","rm","bm"],"labelExpr":"datum.value=='pm' ? 'RPE (w/ efferent)' : datum.value=='rm' ? 'RPE (w/o efferent)' : 'RPE + action surprise'","encode":{"labels":{"update":{"fill":{"scale":"color","field":"value"}}}}}},"strokeWidth":{"field":"k","type":"nominal","scale":{"domain":["p1","p2","pm","r1","r2","rm","b1","b2","bm","g1","g2","gm","c1","c2","cm"],"range":[1,1,1.8,1,1,1.8,1,1,1.8,1,1,2,1,1,1.8]},"legend":null}}}]}}]}
   ]}]}]},
{"title":{"text":"B","anchor":"start","fontSize":18,"fontWeight":"normal","offset":11},
 "vconcat":[{"title":{"text":["Partial basal ganglia control","(combined policy)"],"fontSize":17,"fontWeight":"bold","lineHeight":18,"offset":9},
  "vconcat":[{"title":{"text":"Episodes","orient":"bottom","fontSize":16.5,"fontWeight":"normal","offset":3},"spacing":37,
   "vconcat":[
     {"title":{"text":"Cost","orient":"left","fontSize":17.5,"fontWeight":"normal","color":"transparent","offset":5},"data":{"name":"cur"},"transform":[{"filter":{"field":"g","equal":"Be"}}],"facet":{"column":{"field":"task","type":"nominal","header":{"title":null,"labelPadding":3}}},"spacing":{"column":23,"row":10},"resolve":{"axis":{"y":"independent"}},
      "spec":{"width":59,"height":82,"layer":[
       {"transform":[{"filter":"isValid(datum.d)"}],"mark":{"type":"rule","strokeDash":[5,3],"color":"#858585","strokeWidth":1.2},"encoding":{"y":{"field":"d","type":"quantitative","scale":{"domain":[0,31.5]},"axis":{"values":[0,30],"title":null}}}},
       {"transform":[{"fold":["p1","p2","pm","b1","b2","bm","r1","r2","rm"],"as":["k","v"]},{"filter":"isValid(datum.v)"}],"mark":{"type":"line","clip":true},"encoding":{"x":{"field":"x","type":"quantitative","scale":{"domain":[0,100000]},"axis":{"values":[0,100000],"labelExpr":"datum.value == 0 ? '0' : '100k'","title":null}},"y":{"field":"v","type":"quantitative","scale":{"domain":[0,31.5]},"axis":{"values":[0,30],"title":null}},"color":{"field":"k","type":"nominal","title":null,"scale":{"domain":["p1","p2","pm","r1","r2","rm","b1","b2","bm","g1","g2","gm","c1","c2","cm"],"range":["#c2abee","#c2abee","#9468d8","#f19396","#f19396","#e3262d","#9a9a9a","#9a9a9a","#000000","#8fd08f","#8fd08f","#2f9e2f","#9a9a9a","#9a9a9a","#000000"]},"legend":{"values":["pm","rm","bm"],"labelExpr":"datum.value=='pm' ? 'RPE (w/ efferent)' : datum.value=='rm' ? 'RPE (w/o efferent)' : 'RPE + action surprise'","encode":{"labels":{"update":{"fill":{"scale":"color","field":"value"}}}}}},"strokeWidth":{"field":"k","type":"nominal","scale":{"domain":["p1","p2","pm","r1","r2","rm","b1","b2","bm","g1","g2","gm","c1","c2","cm"],"range":[1,1,1.8,1,1,1.8,1,1,1.8,1,1,2,1,1,1.8]},"legend":null}}}]}},
     {"title":{"text":"Cost","orient":"left","fontSize":17.5,"fontWeight":"normal","offset":5},"data":{"name":"cur"},"transform":[{"filter":{"field":"g","equal":"Bi"}}],"facet":{"column":{"field":"task","type":"nominal","header":{"title":null,"labels":false}}},"spacing":{"column":23,"row":10},"resolve":{"axis":{"y":"independent"}},
      "spec":{"width":59,"height":82,"layer":[
       {"transform":[{"filter":"isValid(datum.d)"}],"mark":{"type":"rule","strokeDash":[5,3],"color":"#858585","strokeWidth":1.2},"encoding":{"y":{"field":"d","type":"quantitative","scale":{"domain":[0,31.5]},"axis":{"values":[0,30],"title":null}}}},
       {"transform":[{"fold":["p1","p2","pm","b1","b2","bm","r1","r2","rm"],"as":["k","v"]},{"filter":"isValid(datum.v)"}],"mark":{"type":"line","clip":true},"encoding":{"x":{"field":"x","type":"quantitative","scale":{"domain":[0,100000]},"axis":{"values":[0,100000],"labelExpr":"datum.value == 0 ? '0' : '100k'","title":null}},"y":{"field":"v","type":"quantitative","scale":{"domain":[0,31.5]},"axis":{"values":[0,30],"title":null}},"color":{"field":"k","type":"nominal","title":null,"scale":{"domain":["p1","p2","pm","r1","r2","rm","b1","b2","bm","g1","g2","gm","c1","c2","cm"],"range":["#c2abee","#c2abee","#9468d8","#f19396","#f19396","#e3262d","#9a9a9a","#9a9a9a","#000000","#8fd08f","#8fd08f","#2f9e2f","#9a9a9a","#9a9a9a","#000000"]},"legend":{"values":["pm","rm","bm"],"labelExpr":"datum.value=='pm' ? 'RPE (w/ efferent)' : datum.value=='rm' ? 'RPE (w/o efferent)' : 'RPE + action surprise'","encode":{"labels":{"update":{"fill":{"scale":"color","field":"value"}}}}}},"strokeWidth":{"field":"k","type":"nominal","scale":{"domain":["p1","p2","pm","r1","r2","rm","b1","b2","bm","g1","g2","gm","c1","c2","cm"],"range":[1,1,1.8,1,1,1.8,1,1,1.8,1,1,2,1,1,1.8]},"legend":null}}}]}},
     {"title":{"text":"Cost","orient":"left","fontSize":17.5,"fontWeight":"normal","offset":5},"data":{"name":"cur"},"transform":[{"filter":{"field":"g","equal":"Br"}}],"facet":{"column":{"field":"task","type":"nominal","header":{"title":null,"labels":false}}},"spacing":{"column":23,"row":10},"resolve":{"axis":{"y":"independent"}},
      "spec":{"width":59,"height":82,"layer":[
       {"transform":[{"filter":"isValid(datum.d)"}],"mark":{"type":"rule","strokeDash":[5,3],"color":"#858585","strokeWidth":1.2},"encoding":{"y":{"field":"d","type":"quantitative","scale":{"domain":[0,31.5]},"axis":{"values":[0,30],"title":null}}}},
       {"transform":[{"fold":["p1","p2","pm","b1","b2","bm","r1","r2","rm"],"as":["k","v"]},{"filter":"isValid(datum.v)"}],"mark":{"type":"line","clip":true},"encoding":{"x":{"field":"x","type":"quantitative","scale":{"domain":[0,100000]},"axis":{"values":[0,100000],"labelExpr":"datum.value == 0 ? '0' : '100k'","title":null}},"y":{"field":"v","type":"quantitative","scale":{"domain":[0,31.5]},"axis":{"values":[0,30],"title":null}},"color":{"field":"k","type":"nominal","title":null,"scale":{"domain":["p1","p2","pm","r1","r2","rm","b1","b2","bm","g1","g2","gm","c1","c2","cm"],"range":["#c2abee","#c2abee","#9468d8","#f19396","#f19396","#e3262d","#9a9a9a","#9a9a9a","#000000","#8fd08f","#8fd08f","#2f9e2f","#9a9a9a","#9a9a9a","#000000"]},"legend":{"values":["pm","rm","bm"],"labelExpr":"datum.value=='pm' ? 'RPE (w/ efferent)' : datum.value=='rm' ? 'RPE (w/o efferent)' : 'RPE + action surprise'","encode":{"labels":{"update":{"fill":{"scale":"color","field":"value"}}}}}},"strokeWidth":{"field":"k","type":"nominal","scale":{"domain":["p1","p2","pm","r1","r2","rm","b1","b2","bm","g1","g2","gm","c1","c2","cm"],"range":[1,1,1.8,1,1,1.8,1,1,1.8,1,1,2,1,1,1.8]},"legend":null}}}]}}
   ]}]}]}
]},
{"spacing":14,"hconcat":[
{"title":{"text":"C","anchor":"start","fontSize":18,"fontWeight":"normal","offset":11},
 "vconcat":[{"title":{"text":[" ","Fully off-policy"],"fontSize":17,"fontWeight":"bold","lineHeight":18,"offset":9},
  "vconcat":[{"title":{"text":"Episodes","orient":"bottom","fontSize":16.5,"fontWeight":"normal","offset":3},"spacing":37,
   "vconcat":[
     {"title":{"text":"Cost","orient":"left","fontSize":17.5,"fontWeight":"normal","color":"transparent","offset":5},"data":{"name":"cur"},"transform":[{"filter":{"field":"g","equal":"Ce"}}],"facet":{"column":{"field":"task","type":"nominal","header":{"title":null,"labelPadding":3}}},"spacing":{"column":22,"row":10},"resolve":{"axis":{"y":"independent"}},
      "spec":{"width":59,"height":82,"layer":[
       {"transform":[{"filter":"isValid(datum.d)"}],"mark":{"type":"rule","strokeDash":[5,3],"color":"#858585","strokeWidth":1.2},"encoding":{"y":{"field":"d","type":"quantitative","scale":{"domain":[0,31.5]},"axis":{"values":[0,30],"title":null}}}},
       {"transform":[{"fold":["p1","p2","pm","b1","b2","bm","r1","r2","rm"],"as":["k","v"]},{"filter":"isValid(datum.v)"}],"mark":{"type":"line","clip":true},"encoding":{"x":{"field":"x","type":"quantitative","scale":{"domain":[0,100000]},"axis":{"values":[0,100000],"labelExpr":"datum.value == 0 ? '0' : '100k'","title":null}},"y":{"field":"v","type":"quantitative","scale":{"domain":[0,31.5]},"axis":{"values":[0,30],"title":null}},"color":{"field":"k","type":"nominal","title":null,"scale":{"domain":["p1","p2","pm","r1","r2","rm","b1","b2","bm","g1","g2","gm","c1","c2","cm"],"range":["#c2abee","#c2abee","#9468d8","#f19396","#f19396","#e3262d","#9a9a9a","#9a9a9a","#000000","#8fd08f","#8fd08f","#2f9e2f","#9a9a9a","#9a9a9a","#000000"]},"legend":{"values":["pm","rm","bm"],"labelExpr":"datum.value=='pm' ? 'RPE (w/ efferent)' : datum.value=='rm' ? 'RPE (w/o efferent)' : 'RPE + action surprise'","encode":{"labels":{"update":{"fill":{"scale":"color","field":"value"}}}}}},"strokeWidth":{"field":"k","type":"nominal","scale":{"domain":["p1","p2","pm","r1","r2","rm","b1","b2","bm","g1","g2","gm","c1","c2","cm"],"range":[1,1,1.8,1,1,1.8,1,1,1.8,1,1,2,1,1,1.8]},"legend":null}}}]}},
     {"title":{"text":"Cost","orient":"left","fontSize":17.5,"fontWeight":"normal","offset":5},"data":{"name":"cur"},"transform":[{"filter":{"field":"g","equal":"Ci"}}],"facet":{"column":{"field":"task","type":"nominal","header":{"title":null,"labels":false}}},"spacing":{"column":22,"row":10},"resolve":{"axis":{"y":"independent"}},
      "spec":{"width":59,"height":82,"layer":[
       {"transform":[{"filter":"isValid(datum.d)"}],"mark":{"type":"rule","strokeDash":[5,3],"color":"#858585","strokeWidth":1.2},"encoding":{"y":{"field":"d","type":"quantitative","scale":{"domain":[0,31.5]},"axis":{"values":[0,30],"title":null}}}},
       {"transform":[{"fold":["p1","p2","pm","b1","b2","bm","r1","r2","rm"],"as":["k","v"]},{"filter":"isValid(datum.v)"}],"mark":{"type":"line","clip":true},"encoding":{"x":{"field":"x","type":"quantitative","scale":{"domain":[0,100000]},"axis":{"values":[0,100000],"labelExpr":"datum.value == 0 ? '0' : '100k'","title":null}},"y":{"field":"v","type":"quantitative","scale":{"domain":[0,31.5]},"axis":{"values":[0,30],"title":null}},"color":{"field":"k","type":"nominal","title":null,"scale":{"domain":["p1","p2","pm","r1","r2","rm","b1","b2","bm","g1","g2","gm","c1","c2","cm"],"range":["#c2abee","#c2abee","#9468d8","#f19396","#f19396","#e3262d","#9a9a9a","#9a9a9a","#000000","#8fd08f","#8fd08f","#2f9e2f","#9a9a9a","#9a9a9a","#000000"]},"legend":{"values":["pm","rm","bm"],"labelExpr":"datum.value=='pm' ? 'RPE (w/ efferent)' : datum.value=='rm' ? 'RPE (w/o efferent)' : 'RPE + action surprise'","encode":{"labels":{"update":{"fill":{"scale":"color","field":"value"}}}}}},"strokeWidth":{"field":"k","type":"nominal","scale":{"domain":["p1","p2","pm","r1","r2","rm","b1","b2","bm","g1","g2","gm","c1","c2","cm"],"range":[1,1,1.8,1,1,1.8,1,1,1.8,1,1,2,1,1,1.8]},"legend":null}}}]}},
     {"title":{"text":"Cost","orient":"left","fontSize":17.5,"fontWeight":"normal","offset":5},"data":{"name":"cur"},"transform":[{"filter":{"field":"g","equal":"Cr"}}],"facet":{"column":{"field":"task","type":"nominal","header":{"title":null,"labels":false}}},"spacing":{"column":22,"row":10},"resolve":{"axis":{"y":"independent"}},
      "spec":{"width":59,"height":82,"layer":[
       {"transform":[{"filter":"isValid(datum.d)"}],"mark":{"type":"rule","strokeDash":[5,3],"color":"#858585","strokeWidth":1.2},"encoding":{"y":{"field":"d","type":"quantitative","scale":{"domain":[0,31.5]},"axis":{"values":[0,30],"title":null}}}},
       {"transform":[{"fold":["p1","p2","pm","b1","b2","bm","r1","r2","rm"],"as":["k","v"]},{"filter":"isValid(datum.v)"}],"mark":{"type":"line","clip":true},"encoding":{"x":{"field":"x","type":"quantitative","scale":{"domain":[0,100000]},"axis":{"values":[0,100000],"labelExpr":"datum.value == 0 ? '0' : '100k'","title":null}},"y":{"field":"v","type":"quantitative","scale":{"domain":[0,31.5]},"axis":{"values":[0,30],"title":null}},"color":{"field":"k","type":"nominal","title":null,"scale":{"domain":["p1","p2","pm","r1","r2","rm","b1","b2","bm","g1","g2","gm","c1","c2","cm"],"range":["#c2abee","#c2abee","#9468d8","#f19396","#f19396","#e3262d","#9a9a9a","#9a9a9a","#000000","#8fd08f","#8fd08f","#2f9e2f","#9a9a9a","#9a9a9a","#000000"]},"legend":{"values":["pm","rm","bm"],"labelExpr":"datum.value=='pm' ? 'RPE (w/ efferent)' : datum.value=='rm' ? 'RPE (w/o efferent)' : 'RPE + action surprise'","encode":{"labels":{"update":{"fill":{"scale":"color","field":"value"}}}}}},"strokeWidth":{"field":"k","type":"nominal","scale":{"domain":["p1","p2","pm","r1","r2","rm","b1","b2","bm","g1","g2","gm","c1","c2","cm"],"range":[1,1,1.8,1,1,1.8,1,1,1.8,1,1,2,1,1,1.8]},"legend":null}}}]}}
   ]}]}]},
{"title":{"text":"D","anchor":"start","fontSize":18,"fontWeight":"normal","offset":11},"spacing":16,
 "vconcat":[
  {"title":{"text":[" ","On-policy"],"fontSize":17,"fontWeight":"bold","lineHeight":18,"offset":9,"dx":10},
   "vconcat":[{"title":{"text":"Episodes","orient":"bottom","fontSize":16.5,"fontWeight":"normal","dx":14,"offset":3},
    "vconcat":[{"title":{"text":"Cost","orient":"left","fontSize":8,"color":"transparent","offset":0},
     "vconcat":[
     {"title":{"text":"Cost","orient":"left","fontSize":17.5,"fontWeight":"normal","offset":5},"data":{"name":"cur"},"transform":[{"filter":{"field":"g","equal":"D"}}],"facet":{"column":{"field":"task","type":"nominal","header":{"title":null,"labelPadding":3}}},"spacing":{"column":49,"row":10},"resolve":{"axis":{"y":"independent"}},
      "spec":{"width":58,"height":82,"layer":[
       {"transform":[{"filter":"isValid(datum.d)"}],"mark":{"type":"rule","strokeDash":[5,3],"color":"#858585","strokeWidth":1.2},"encoding":{"y":{"field":"d","type":"quantitative","scale":{"domain":[0,31.5]},"axis":{"values":[0,30],"title":null}}}},
       {"transform":[{"fold":["p1","p2","pm","b1","b2","bm","r1","r2","rm"],"as":["k","v"]},{"filter":"isValid(datum.v)"}],"mark":{"type":"line","clip":true},"encoding":{"x":{"field":"x","type":"quantitative","scale":{"domain":[0,100000]},"axis":{"values":[0,100000],"labelExpr":"datum.value == 0 ? '0' : '100k'","title":null}},"y":{"field":"v","type":"quantitative","scale":{"domain":[0,31.5]},"axis":{"values":[0,30],"title":null}},"color":{"field":"k","type":"nominal","title":null,"scale":{"domain":["p1","p2","pm","r1","r2","rm","b1","b2","bm","g1","g2","gm","c1","c2","cm"],"range":["#c2abee","#c2abee","#9468d8","#f19396","#f19396","#e3262d","#9a9a9a","#9a9a9a","#000000","#8fd08f","#8fd08f","#2f9e2f","#9a9a9a","#9a9a9a","#000000"]},"legend":{"values":["pm","rm","bm"],"labelExpr":"datum.value=='pm' ? 'RPE (w/ efferent)' : datum.value=='rm' ? 'RPE (w/o efferent)' : 'RPE + action surprise'","encode":{"labels":{"update":{"fill":{"scale":"color","field":"value"}}}}}},"strokeWidth":{"field":"k","type":"nominal","scale":{"domain":["p1","p2","pm","r1","r2","rm","b1","b2","bm","g1","g2","gm","c1","c2","cm"],"range":[1,1,1.8,1,1,1.8,1,1,1.8,1,1,2,1,1,1.8]},"legend":null}}}]}}
    ]}]}]},
  {"spacing":6,"vconcat":[
    {"width":216,"height":136,"data":{"name":"diag"},
     "layer":[
      {"transform":[{"filter":"datum.kind=='seg' && datum.c!='n'"}],"mark":{"type":"rule","strokeWidth":1.1},"encoding":{"x":{"field":"x","type":"quantitative","scale":{"domain":[0,216]},"axis":null},"y":{"field":"y","type":"quantitative","scale":{"domain":[0,136],"reverse":true},"axis":null},"x2":{"field":"x2"},"y2":{"field":"y2"},"stroke":{"field":"c","type":"nominal","scale":{"domain":["k","g"],"range":["#222222","#7a7a7a"]},"legend":null}}},
      {"transform":[{"filter":"datum.kind=='seg' && datum.c=='n'"}],"mark":{"type":"rule","strokeWidth":2.4,"color":"#2f9e2f"},"encoding":{"x":{"field":"x","type":"quantitative","scale":{"domain":[0,216]},"axis":null},"y":{"field":"y","type":"quantitative","scale":{"domain":[0,136],"reverse":true},"axis":null},"x2":{"field":"x2"},"y2":{"field":"y2"}}},
      {"transform":[{"filter":"datum.kind=='arr'"}],"mark":{"type":"point","filled":true,"size":24,"opacity":1},"encoding":{"x":{"field":"x","type":"quantitative","scale":{"domain":[0,216]},"axis":null},"y":{"field":"y","type":"quantitative","scale":{"domain":[0,136],"reverse":true},"axis":null},"shape":{"field":"dir","type":"nominal","scale":{"domain":["up","down"],"range":["triangle-up","triangle-down"]},"legend":null},"fill":{"field":"c","type":"nominal","scale":{"domain":["k","g","n"],"range":["#222222","#7a7a7a","#2f9e2f"]},"legend":null}}},
      {"transform":[{"filter":"datum.r=='lab'"}],"mark":{"type":"text","fontSize":12.5,"color":"#111","align":"center","baseline":"middle"},"encoding":{"x":{"field":"x","type":"quantitative","scale":{"domain":[0,216]},"axis":null},"y":{"field":"y","type":"quantitative","scale":{"domain":[0,136],"reverse":true},"axis":null},"text":{"field":"t"}}},
      {"transform":[{"filter":"datum.r=='mu'"}],"mark":{"type":"text","fontSize":15,"color":"#6f9fe6","align":"center","baseline":"middle","font":"DejaVu Serif"},"encoding":{"x":{"field":"x","type":"quantitative","scale":{"domain":[0,216]},"axis":null},"y":{"field":"y","type":"quantitative","scale":{"domain":[0,136],"reverse":true},"axis":null},"text":{"field":"t"}}},
      {"transform":[{"filter":"datum.r=='val'"}],"mark":{"type":"text","fontSize":14,"color":"#c5a8f5","align":"right","baseline":"middle"},"encoding":{"x":{"field":"x","type":"quantitative","scale":{"domain":[0,216]},"axis":null},"y":{"field":"y","type":"quantitative","scale":{"domain":[0,136],"reverse":true},"axis":null},"text":{"field":"t"}}},
      {"transform":[{"filter":"datum.r=='let'"}],"mark":{"type":"text","fontSize":18,"color":"#111","align":"left","baseline":"middle"},"encoding":{"x":{"field":"x","type":"quantitative","scale":{"domain":[0,216]},"axis":null},"y":{"field":"y","type":"quantitative","scale":{"domain":[0,136],"reverse":true},"axis":null},"text":{"field":"t"}}}
     ]},
    {"title":{"text":"Episodes","orient":"bottom","fontSize":16.5,"fontWeight":"normal","dx":16,"offset":8},
     "vconcat":[{"title":{"text":"Cost","orient":"left","fontSize":8,"color":"transparent","offset":0},
      "vconcat":[
     {"title":{"text":"Cost","orient":"left","fontSize":17.5,"fontWeight":"normal","offset":5},"data":{"name":"cur"},"transform":[{"filter":{"field":"g","equal":"E"}}],"facet":{"column":{"field":"task","type":"nominal","header":{"title":null,"labelPadding":4}}},"spacing":9,"resolve":{"axis":{"y":"independent"}},
      "spec":{"width":52,"height":70,"layer":[
       {"transform":[{"filter":"isValid(datum.d)"}],"mark":{"type":"rule","strokeDash":[5,3],"color":"#858585","strokeWidth":1.2},"encoding":{"y":{"field":"d","type":"quantitative","scale":{"domain":[0,31.5]},"axis":{"values":[0,30],"title":null}}}},
       {"transform":[{"fold":["c1","c2","cm","g1","g2","gm"],"as":["k","v"]},{"filter":"isValid(datum.v)"}],"mark":{"type":"line","clip":true},"encoding":{"x":{"field":"x","type":"quantitative","scale":{"domain":[0,100000]},"axis":{"values":[0,100000],"labelExpr":"datum.value == 0 ? '0' : '100k'","title":null}},"y":{"field":"v","type":"quantitative","scale":{"domain":[0,31.5]},"axis":{"values":[0,30],"title":null}},"color":{"field":"k","type":"nominal","title":null,"scale":{"domain":["p1","p2","pm","r1","r2","rm","b1","b2","bm","g1","g2","gm","c1","c2","cm"],"range":["#c2abee","#c2abee","#9468d8","#f19396","#f19396","#e3262d","#9a9a9a","#9a9a9a","#000000","#8fd08f","#8fd08f","#2f9e2f","#9a9a9a","#9a9a9a","#000000"]},"legend":{"values":["pm","rm","bm"],"labelExpr":"datum.value=='pm' ? 'RPE (w/ efferent)' : datum.value=='rm' ? 'RPE (w/o efferent)' : 'RPE + action surprise'","encode":{"labels":{"update":{"fill":{"scale":"color","field":"value"}}}}}},"strokeWidth":{"field":"k","type":"nominal","scale":{"domain":["p1","p2","pm","r1","r2","rm","b1","b2","bm","g1","g2","gm","c1","c2","cm"],"range":[1,1,1.8,1,1,1.8,1,1,1.8,1,1,2,1,1,1.8]},"legend":null}}},
       {"transform":[{"filter":"datum.who=='g'"}],"mark":{"type":"text","align":"left","baseline":"top","fontSize":12.5,"color":"#2f9e2f","lineBreak":"\n","lineHeight":12.5},"encoding":{"x":{"field":"ax","type":"quantitative","axis":{"values":[0,100000],"labelExpr":"datum.value == 0 ? '0' : '100k'","title":null}},"y":{"field":"ay","type":"quantitative","axis":{"values":[0,30],"title":null}},"text":{"field":"lab"}}},
       {"transform":[{"filter":"datum.who=='c'"}],"mark":{"type":"text","align":"left","baseline":"middle","fontSize":12.5,"color":"#111"},"encoding":{"x":{"field":"ax","type":"quantitative","axis":{"values":[0,100000],"labelExpr":"datum.value == 0 ? '0' : '100k'","title":null}},"y":{"field":"ay","type":"quantitative","axis":{"values":[0,30],"title":null}},"text":{"field":"lab"}}}
      ]}}
    ]}]}
  ]}
 ]}
]}
]
}
